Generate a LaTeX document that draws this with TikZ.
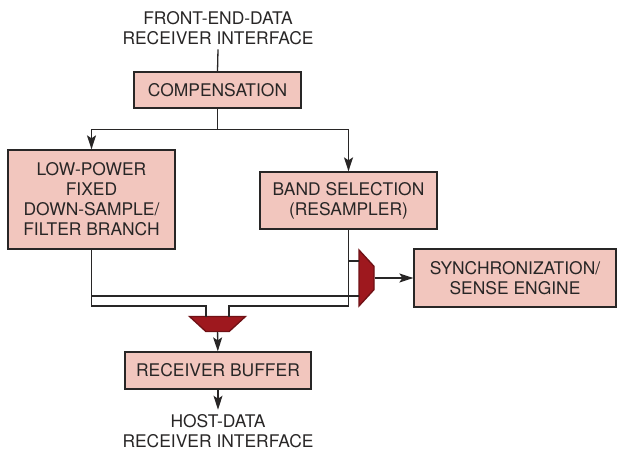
\documentclass[tikz,border=0pt]{standalone}
\usepackage{fontspec}
\setmainfont{TeX Gyre Heros}
\usetikzlibrary{arrows.meta,shapes.geometric,calc}

\definecolor{boxpink}{RGB}{242,198,190}
\definecolor{muxred}{RGB}{158,24,30}
\definecolor{wire}{RGB}{40,38,38}

\tikzset{
  blk/.style={draw=wire, fill=boxpink, align=center, inner sep=0pt},
  lbl/.style={align=center, inner sep=4bp},
  mux/.style={trapezium, draw=muxred!70!black, fill=muxred, inner sep=0.5bp,
    trapezium left angle=55, trapezium right angle=55, trapezium stretches=true,
    minimum width=56bp, minimum height=15bp},
  flow/.style={-{Stealth[length=14bp, width=9bp, inset=3bp]}},
}

\begin{document}
\begin{tikzpicture}[x=1bp, y=-1bp, color=wire, line width=1.3bp,
  font=\fontsize{17.5}{20}\selectfont]
\useasboundingbox (0,0) rectangle (617,450);

% blocks
\node[lbl] (frontend) at (218,28) {FRONT-END-DATA\\RECEIVER INTERFACE};
\node[blk, minimum width=167bp, minimum height=36bp] (comp) at (217.5,90) {COMPENSATION};
\node[blk, minimum width=167bp, minimum height=99bp] (lowpow) at (91.5,199.5) {LOW-POWER\\FIXED\\DOWN-SAMPLE/\\FILTER BRANCH};
\node[blk, minimum width=177bp, minimum height=57bp] (band) at (348.5,200.5) {BAND SELECTION\\(RESAMPLER)};
\node[blk, minimum width=202bp, minimum height=58bp] (sync) at (515,278) {SYNCHRONIZATION/\\SENSE ENGINE};
\node[mux, shape border rotate=180] (bmux) at (217.5,324) {};
\node[mux, shape border rotate=270] (rmux) at (366.5,278) {};
\node[blk, minimum width=186bp, minimum height=37bp] (buf) at (218,370.5) {RECEIVER BUFFER};
\node[lbl] (host) at (218,431) {HOST-DATA\\RECEIVER INTERFACE};

\coordinate (split) at ($(comp.south)+(0,21)$);
\coordinate (rin1) at ($(rmux.center)+(-7.5,-17)$);
\coordinate (rin2) at ($(rmux.center)+(-7.5,18)$);

% connections
\draw (frontend.south) -- (comp.north);
\draw (comp.south) -- (split);
\draw [flow] (split) -| (lowpow.north);
\draw [flow] (split) -| (band.north);
\draw (lowpow.south) |- ($(bmux.center)+(-11.5,-18)$) -- ++(0,11);
\draw (band.south) |- ($(bmux.center)+(11.5,-18)$) -- ++(0,11);
\draw (lowpow.south |- rin2) -- (rin2);
\draw (band.south |- rin1) -- (rin1);
\draw [flow] (rmux) -- (sync);
\draw [flow] (bmux) -- (buf);
\draw [flow] (buf) -- (host);

\end{tikzpicture}
\end{document}
